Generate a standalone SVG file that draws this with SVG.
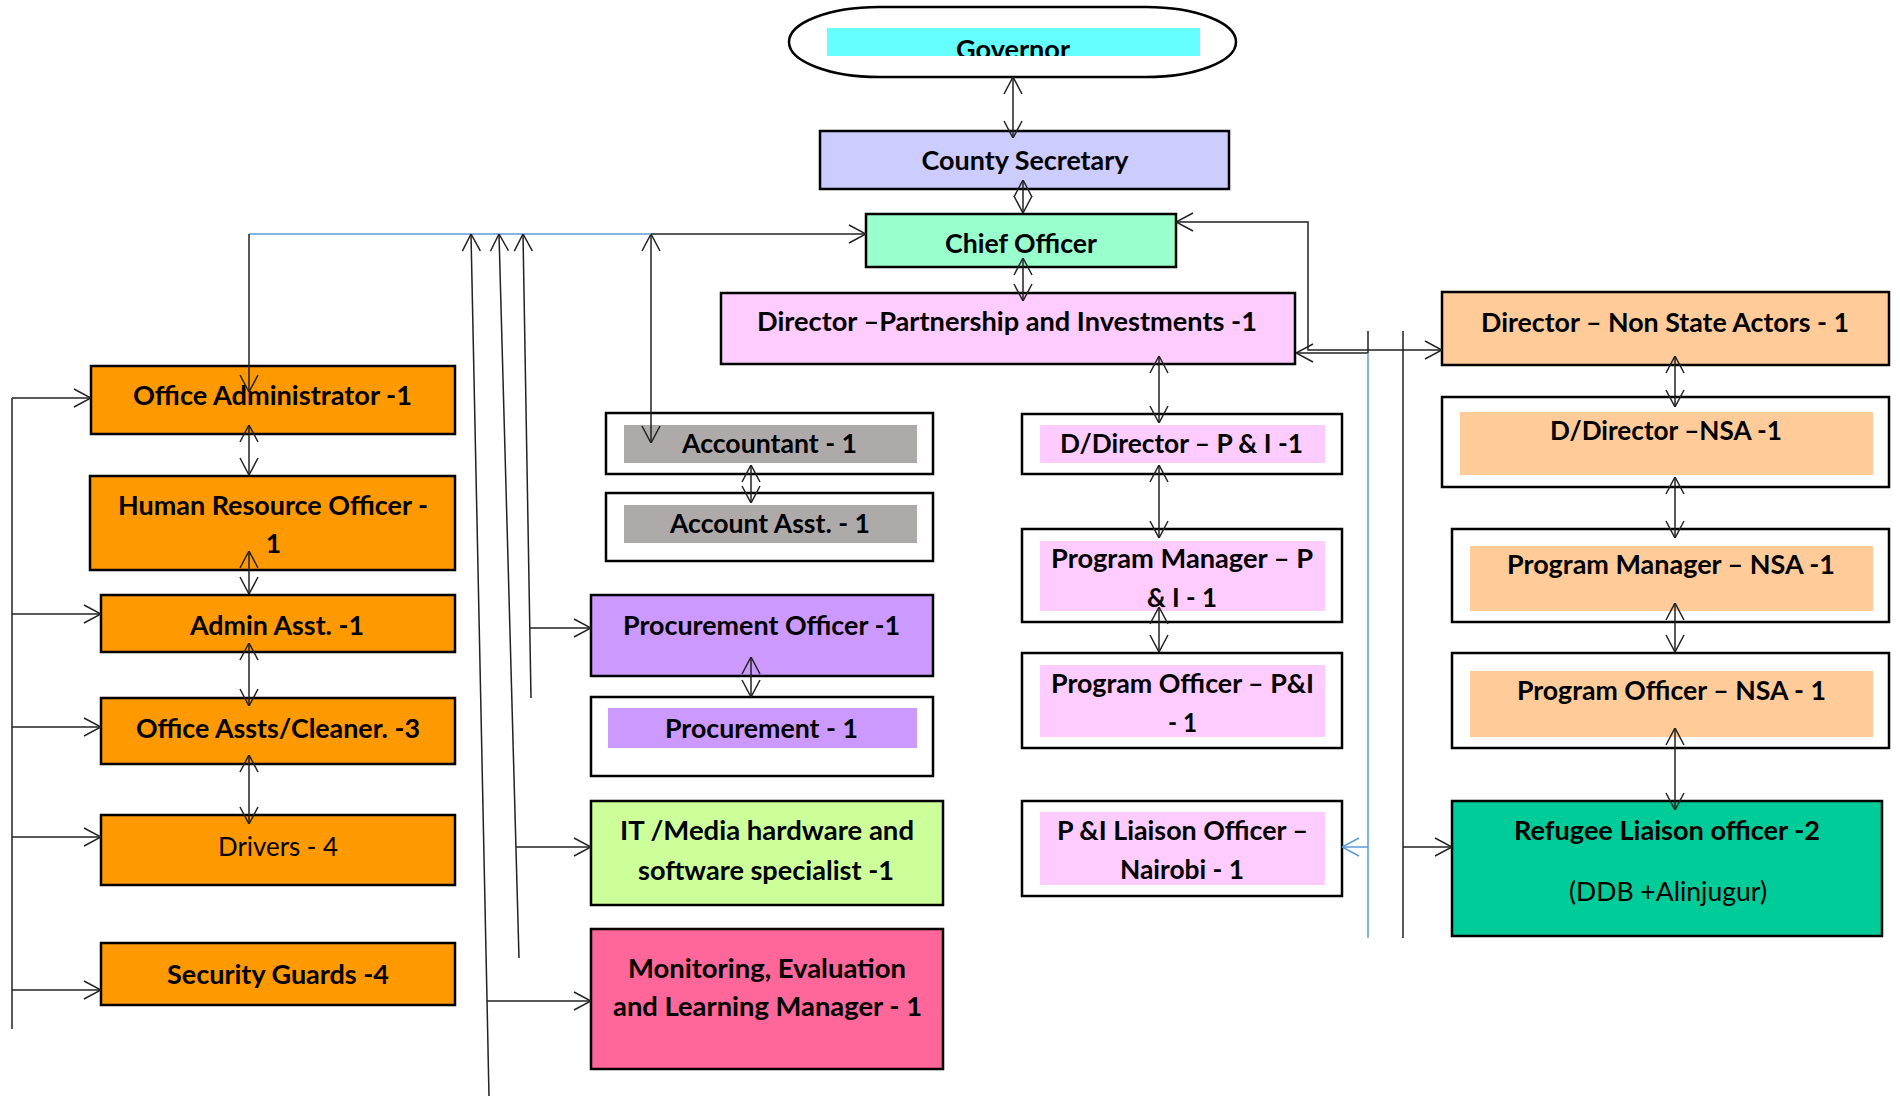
<svg xmlns="http://www.w3.org/2000/svg" width="1900" height="1096" viewBox="0 0 1900 1096">
  <style>
    .box{stroke:#000;stroke-width:2.5}
    .in{stroke:none}
    .t{font-family:Lato,"Open Sans","Liberation Sans",sans-serif;font-weight:700;font-size:26.5px;text-anchor:middle;fill:#000}
    .r{font-weight:400}
    .ln{fill:none;stroke:#222;stroke-width:1.5}
    .blue{fill:none;stroke:#5B9BD5;stroke-width:1.5}
    .both{marker-start:url(#arr);marker-end:url(#arr)}
    .end{marker-end:url(#arr)}
  </style>
  <defs>
    <marker id="arr" viewBox="0 0 20 20" refX="20" refY="10" markerWidth="20" markerHeight="20" markerUnits="userSpaceOnUse" orient="auto-start-reverse">
      <path d="M3,1 L20,10 L3,19" fill="none" stroke="#222" stroke-width="1.5"/>
    </marker>
    <marker id="arrb" viewBox="0 0 20 20" refX="20" refY="10" markerWidth="20" markerHeight="20" markerUnits="userSpaceOnUse" orient="auto-start-reverse">
      <path d="M3,1 L20,10 L3,19" fill="none" stroke="#5B9BD5" stroke-width="1.5"/>
    </marker>
    <clipPath id="govClip">
      <rect x="827" y="28" width="373" height="28"/>
    </clipPath>
  </defs>

  <rect width="1900" height="1096" fill="#fff"/>

  <!-- Top of the hierarchy -->
  <g id="governor">
    <rect class="box" x="789" y="7" width="447" height="70" rx="90" ry="35" fill="#fff"/>
    <rect class="in" x="827" y="28" width="373" height="28" fill="#66FFFF"/>
    <text class="t" x="1013" y="59" textLength="114" lengthAdjust="spacingAndGlyphs" clip-path="url(#govClip)">Governor</text>
  </g>
  <g id="county-secretary">
    <rect class="box" x="820" y="131" width="409" height="58" fill="#CCCCFF"/>
    <text class="t" x="1025" y="170" textLength="207" lengthAdjust="spacingAndGlyphs">County Secretary</text>
  </g>
  <g id="chief-officer">
    <rect class="box" x="866" y="214" width="310" height="53" fill="#99FFCC"/>
    <text class="t" x="1021" y="253" textLength="152" lengthAdjust="spacingAndGlyphs">Chief Officer</text>
  </g>

  <!-- Partnership and Investments -->
  <g id="director-pi">
    <rect class="box" x="721" y="293" width="574" height="71" fill="#FFCCFF"/>
    <text class="t" x="1007" y="331" textLength="500" lengthAdjust="spacingAndGlyphs">Director –Partnership and Investments -1</text>
  </g>
  <g id="ddirector-pi">
    <rect class="box" x="1022" y="414" width="320" height="60" fill="#fff"/>
    <rect class="in" x="1040" y="425" width="285" height="38" fill="#FFCCFF"/>
    <text class="t" x="1181.5" y="453" textLength="243" lengthAdjust="spacingAndGlyphs">D/Director – P &amp; I -1</text>
  </g>
  <g id="pm-pi">
    <rect class="box" x="1022" y="529" width="320" height="93" fill="#fff"/>
    <rect class="in" x="1040" y="541" width="285" height="70" fill="#FFCCFF"/>
    <text class="t" x="1182" y="568" textLength="262" lengthAdjust="spacingAndGlyphs">Program Manager – P</text>
    <text class="t" x="1182" y="607" textLength="70" lengthAdjust="spacingAndGlyphs">&amp; I - 1</text>
  </g>
  <g id="po-pi">
    <rect class="box" x="1022" y="653" width="320" height="95" fill="#fff"/>
    <rect class="in" x="1040" y="665" width="285" height="72" fill="#FFCCFF"/>
    <text class="t" x="1182.5" y="693" textLength="263" lengthAdjust="spacingAndGlyphs">Program Officer – P&amp;I</text>
    <text class="t" x="1182.5" y="732" textLength="29" lengthAdjust="spacingAndGlyphs">- 1</text>
  </g>
  <g id="liaison-nairobi">
    <rect class="box" x="1022" y="801" width="320" height="95" fill="#fff"/>
    <rect class="in" x="1040" y="812" width="285" height="73" fill="#FFCCFF"/>
    <text class="t" x="1182.5" y="840" textLength="251" lengthAdjust="spacingAndGlyphs">P &amp;I Liaison Officer –</text>
    <text class="t" x="1182" y="879" textLength="124" lengthAdjust="spacingAndGlyphs">Nairobi - 1</text>
  </g>

  <!-- Non State Actors -->
  <g id="director-nsa">
    <rect class="box" x="1442" y="292" width="447" height="73" fill="#FFCC99"/>
    <text class="t" x="1665" y="332" textLength="368" lengthAdjust="spacingAndGlyphs">Director – Non State Actors - 1</text>
  </g>
  <g id="ddirector-nsa">
    <rect class="box" x="1442" y="397" width="447" height="90" fill="#fff"/>
    <rect class="in" x="1460" y="412" width="413" height="63" fill="#FFCC99"/>
    <text class="t" x="1666" y="440" textLength="232" lengthAdjust="spacingAndGlyphs">D/Director –NSA -1</text>
  </g>
  <g id="pm-nsa">
    <rect class="box" x="1452" y="529" width="437" height="93" fill="#fff"/>
    <rect class="in" x="1470" y="546" width="403" height="65" fill="#FFCC99"/>
    <text class="t" x="1671" y="574" textLength="328" lengthAdjust="spacingAndGlyphs">Program Manager – NSA -1</text>
  </g>
  <g id="po-nsa">
    <rect class="box" x="1452" y="653" width="437" height="95" fill="#fff"/>
    <rect class="in" x="1470" y="671" width="403" height="66" fill="#FFCC99"/>
    <text class="t" x="1671.5" y="700" textLength="309" lengthAdjust="spacingAndGlyphs">Program Officer – NSA - 1</text>
  </g>
  <g id="refugee-liaison">
    <rect class="box" x="1452" y="801" width="430" height="135" fill="#00CC99"/>
    <text class="t" x="1667" y="840" textLength="306" lengthAdjust="spacingAndGlyphs">Refugee Liaison officer -2</text>
    <text class="t r" x="1668" y="901" textLength="198" lengthAdjust="spacingAndGlyphs">(DDB +Alinjugur)</text>
  </g>

  <!-- Finance, procurement, ICT and MEL -->
  <g id="accountant">
    <rect class="box" x="606" y="413" width="327" height="61" fill="#fff"/>
    <rect class="in" x="624" y="425" width="293" height="38" fill="#AEAAAA"/>
    <text class="t" x="769.5" y="453" textLength="175" lengthAdjust="spacingAndGlyphs">Accountant - 1</text>
  </g>
  <g id="account-asst">
    <rect class="box" x="606" y="493" width="327" height="68" fill="#fff"/>
    <rect class="in" x="624" y="505" width="293" height="38" fill="#AEAAAA"/>
    <text class="t" x="770" y="533" textLength="200" lengthAdjust="spacingAndGlyphs">Account Asst. - 1</text>
  </g>
  <g id="procurement-officer">
    <rect class="box" x="591" y="595" width="342" height="81" fill="#CC99FF"/>
    <text class="t" x="761.5" y="635" textLength="277" lengthAdjust="spacingAndGlyphs">Procurement Officer -1</text>
  </g>
  <g id="procurement">
    <rect class="box" x="591" y="697" width="342" height="79" fill="#fff"/>
    <rect class="in" x="608" y="708" width="309" height="40" fill="#CC99FF"/>
    <text class="t" x="761.5" y="738" textLength="193" lengthAdjust="spacingAndGlyphs">Procurement - 1</text>
  </g>
  <g id="it-media">
    <rect class="box" x="591" y="801" width="352" height="104" fill="#CCFF99"/>
    <text class="t" x="767" y="840" textLength="294" lengthAdjust="spacingAndGlyphs">IT /Media hardware and</text>
    <text class="t" x="766" y="880" textLength="256" lengthAdjust="spacingAndGlyphs">software specialist -1</text>
  </g>
  <g id="mel-manager">
    <rect class="box" x="591" y="929" width="352" height="140" fill="#FF6699"/>
    <text class="t" x="767" y="978" textLength="278" lengthAdjust="spacingAndGlyphs">Monitoring, Evaluation</text>
    <text class="t" x="767.5" y="1016" textLength="309" lengthAdjust="spacingAndGlyphs">and Learning Manager - 1</text>
  </g>

  <!-- Administration -->
  <g id="office-administrator">
    <rect class="box" x="91" y="366" width="364" height="68" fill="#FF9900"/>
    <text class="t" x="272.5" y="405" textLength="279" lengthAdjust="spacingAndGlyphs">Office Administrator -1</text>
  </g>
  <g id="hr-officer">
    <rect class="box" x="90" y="476" width="365" height="94" fill="#FF9900"/>
    <text class="t" x="273" y="515" textLength="310" lengthAdjust="spacingAndGlyphs">Human Resource Officer -</text>
    <text class="t" x="273.5" y="553">1</text>
  </g>
  <g id="admin-asst">
    <rect class="box" x="101" y="595" width="354" height="57" fill="#FF9900"/>
    <text class="t" x="277" y="635" textLength="174" lengthAdjust="spacingAndGlyphs">Admin Asst. -1</text>
  </g>
  <g id="office-assts">
    <rect class="box" x="101" y="698" width="354" height="66" fill="#FF9900"/>
    <text class="t" x="278" y="738" textLength="284" lengthAdjust="spacingAndGlyphs">Office Assts/Cleaner. -3</text>
  </g>
  <g id="drivers">
    <rect class="box" x="101" y="815" width="354" height="70" fill="#FF9900"/>
    <text class="t r" x="278" y="856" textLength="120" lengthAdjust="spacingAndGlyphs">Drivers - 4</text>
  </g>
  <g id="security-guards">
    <rect class="box" x="101" y="943" width="354" height="62" fill="#FF9900"/>
    <text class="t" x="278" y="984" textLength="222" lengthAdjust="spacingAndGlyphs">Security Guards -4</text>
  </g>

  <!-- Reporting lines -->
  <g id="connectors">
    <!-- main spine -->
    <line class="ln both" x1="1013" y1="77" x2="1013" y2="138"/>
    <line class="ln both" x1="1023" y1="180" x2="1023" y2="213"/>
    <line class="ln both" x1="1023" y1="258" x2="1023" y2="301"/>

    <!-- P&I column -->
    <line class="ln both" x1="1159" y1="356" x2="1159" y2="423"/>
    <line class="ln both" x1="1159" y1="465" x2="1159" y2="538"/>
    <line class="ln both" x1="1159" y1="607" x2="1159" y2="652"/>

    <!-- NSA column -->
    <line class="ln both" x1="1675" y1="356" x2="1675" y2="407"/>
    <line class="ln both" x1="1675" y1="477" x2="1675" y2="538"/>
    <line class="ln both" x1="1675" y1="603" x2="1675" y2="652"/>
    <line class="ln both" x1="1675" y1="728" x2="1675" y2="810"/>

    <!-- chief officer to both directors -->
    <path class="ln both" d="M1442,350 L1308,350 L1308,222 L1176,222"/>
    <line class="ln end" x1="1368" y1="353" x2="1296" y2="353"/>
    <line class="ln" x1="1368" y1="331" x2="1368" y2="353"/>
    <line class="blue" x1="1368" y1="353" x2="1368" y2="938"/>
    <line class="blue" x1="1368" y1="847" x2="1342" y2="847" marker-end="url(#arrb)"/>
    <line class="ln" x1="1403" y1="331" x2="1403" y2="938"/>
    <line class="ln end" x1="1403" y1="847" x2="1452" y2="847"/>

    <!-- finance / procurement -->
    <line class="ln both" x1="651" y1="234" x2="651" y2="443"/>
    <line class="ln both" x1="751" y1="465" x2="751" y2="503"/>
    <line class="ln both" x1="751" y1="657" x2="751" y2="697"/>

    <!-- top feeder line to chief officer -->
    <line class="blue" x1="249" y1="234" x2="651" y2="234"/>
    <line class="ln end" x1="651" y1="234" x2="866" y2="234"/>
    <line class="ln end" x1="249" y1="234" x2="249" y2="392"/>

    <!-- risers from procurement, ICT and MEL -->
    <line class="ln end" x1="489" y1="1096" x2="471" y2="234"/>
    <line class="ln end" x1="519" y1="958" x2="499" y2="234"/>
    <line class="ln end" x1="531" y1="698" x2="523" y2="234"/>
    <line class="ln end" x1="487" y1="1001" x2="591" y2="1001"/>
    <line class="ln end" x1="516" y1="847" x2="591" y2="847"/>
    <line class="ln end" x1="530" y1="628" x2="591" y2="628"/>

    <!-- administration chain -->
    <line class="ln both" x1="249" y1="425" x2="249" y2="475"/>
    <line class="ln both" x1="249" y1="551" x2="249" y2="594"/>
    <line class="ln both" x1="249" y1="643" x2="249" y2="706"/>
    <line class="ln both" x1="249" y1="755" x2="249" y2="824"/>

    <!-- left bus -->
    <line class="ln" x1="12" y1="398" x2="12" y2="1029"/>
    <line class="ln end" x1="12" y1="398" x2="91" y2="398"/>
    <line class="ln end" x1="12" y1="614" x2="101" y2="614"/>
    <line class="ln end" x1="12" y1="727" x2="101" y2="727"/>
    <line class="ln end" x1="12" y1="837" x2="101" y2="837"/>
    <line class="ln end" x1="12" y1="990" x2="101" y2="990"/>
  </g>
</svg>
